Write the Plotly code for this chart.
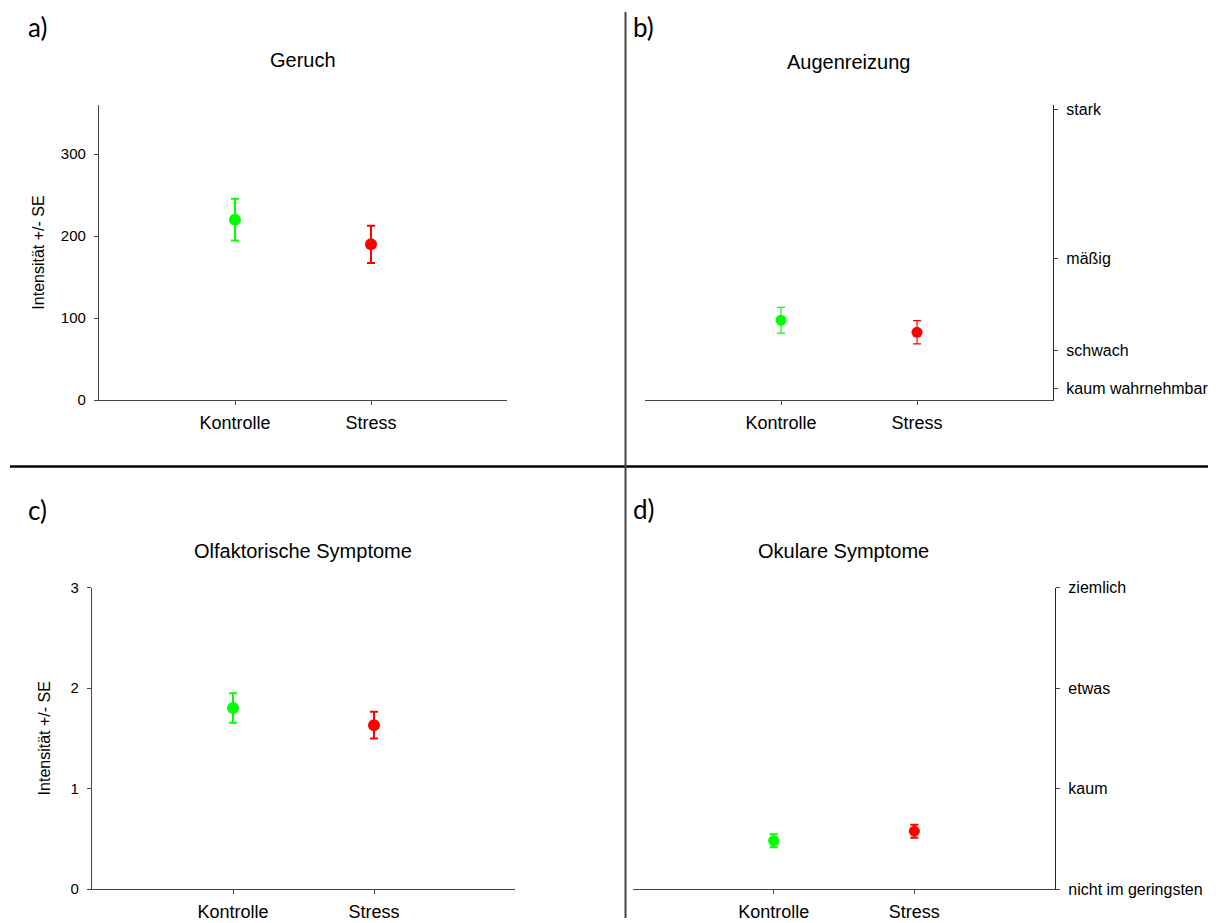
import plotly.graph_objects as go

# Page body has an 8px margin, so the figure is sized to fill the rest of the
# viewport and all reference pixel positions are shifted by OFF.
VW, VH = 1216, 923
OFF = 8
W, H = VW - OFF, VH - OFF

categories = ["Kontrolle", "Stress"]
colors = ["#00FF00", "#FF0000"]

geruch_mean = [220, 190]
geruch_se = [25.5, 22.7]

augen_mean = [9.6, 8.15]
augen_se = [1.55, 1.4]

olf_mean = [1.80, 1.63]
olf_se = [0.147, 0.133]

okul_mean = [0.48, 0.575]
okul_se = [0.065, 0.065]

augen_tickvals = [1.4, 6, 17, 35]
augen_ticktext = ["kaum wahrnehmbar", "schwach", "mäßig", "stark"]

okul_tickvals = [0, 1, 2, 3]
okul_ticktext = ["nicht im geringsten", "kaum", "etwas", "ziemlich"]

panel_titles = ["Geruch", "Augenreizung", "Olfaktorische Symptome", "Okulare Symptome"]
panel_letters = ["a)", "b)", "c)", "d)"]

FONT = "Liberation Sans, Arial, sans-serif"
AXC = "#444444"


def px_x(p):
    return (p - OFF) / W


def px_y(p):
    return 1 - (p - OFF) / H


fig = go.Figure()

panels = [
    (geruch_mean, geruch_se, "x", "y", 2.0, 12),
    (augen_mean, augen_se, "x2", "y2", 1.2, 11),
    (olf_mean, olf_se, "x3", "y3", 2.0, 12),
    (okul_mean, okul_se, "x4", "y4", 2.0, 11),
]

for means, ses, xa, ya, th, ms in panels:
    for i, cat in enumerate(categories):
        fig.add_trace(go.Scatter(
            x=[cat], y=[means[i]], xaxis=xa, yaxis=ya,
            mode="markers",
            marker=dict(color=colors[i], size=ms),
            error_y=dict(type="data", array=[ses[i]], color=colors[i],
                         thickness=th, width=4),
            showlegend=False, cliponaxis=False,
        ))

common_x = dict(type="category", categoryorder="array", categoryarray=categories,
                range=[-1, 2], showline=True, linecolor=AXC, linewidth=1.3,
                ticks="outside", ticklen=4, tickcolor=AXC, showgrid=False,
                zeroline=False, automargin=False, ticklabelstandoff=2,
                tickfont=dict(family=FONT, size=18, color="black"),
                fixedrange=True)

common_y = dict(showline=True, linewidth=1.3, ticks="outside", ticklen=4,
                tickcolor=AXC, showgrid=False, zeroline=False, automargin=False,
                fixedrange=True)

fig.update_layout(
    template="none",
    width=W, height=H,
    margin=dict(l=0, r=0, t=0, b=0, autoexpand=False),
    paper_bgcolor="white", plot_bgcolor="white",
    font=dict(family=FONT, color="black"),
    showlegend=False,
    xaxis=dict(common_x, domain=[px_x(99), px_x(507)], anchor="y"),
    yaxis=dict(common_y, domain=[px_y(400), px_y(105)], anchor="x", range=[0, 360],
               tickvals=[0, 100, 200, 300], linecolor=AXC, ticklabelstandoff=5,
               tickfont=dict(size=15),
               title=dict(text="Intensität +/- SE", font=dict(size=16), standoff=12)),
    xaxis2=dict(common_x, domain=[px_x(645), px_x(1053)], anchor="y2"),
    yaxis2=dict(common_y, domain=[px_y(400), px_y(105)], anchor="x2", side="right",
                range=[0, 35.5], tickvals=augen_tickvals, ticktext=augen_ticktext,
                linecolor="#222222", ticklabelstandoff=5, tickfont=dict(size=16)),
    xaxis3=dict(common_x, domain=[px_x(92), px_x(515)], anchor="y3"),
    yaxis3=dict(common_y, domain=[px_y(889), px_y(587.5)], anchor="x3", range=[0, 3],
                tickvals=[0, 1, 2, 3], linecolor=AXC, ticklabelstandoff=5,
                tickfont=dict(size=15),
                title=dict(text="Intensität +/- SE", font=dict(size=16), standoff=15)),
    xaxis4=dict(common_x, domain=[px_x(633), px_x(1055)], anchor="y4"),
    yaxis4=dict(common_y, domain=[px_y(889), px_y(587.5)], anchor="x4", side="right",
                range=[0, 3], tickvals=okul_tickvals, ticktext=okul_ticktext,
                linecolor="#222222", ticklabelstandoff=5, tickfont=dict(size=16)),
)

# Divider lines
fig.add_shape(type="line", xref="paper", yref="paper",
              x0=px_x(10), x1=1, y0=px_y(466.5), y1=px_y(466.5),
              line=dict(color="black", width=2.5))
fig.add_shape(type="line", xref="paper", yref="paper",
              x0=px_x(625.5), x1=px_x(625.5), y0=px_y(12), y1=px_y(918),
              line=dict(color="#444444", width=2))

# Titles
title_pos = [(303, 60), (848, 62), (303, 551), (843, 551)]
for t, (x, y) in zip(panel_titles, title_pos):
    fig.add_annotation(text=t, x=px_x(x), y=px_y(y), xref="paper", yref="paper",
                       showarrow=False, xanchor="center", yanchor="middle",
                       font=dict(family=FONT, size=20, color="black"))

# Panel letters
letter_pos = [(26, 27), (631, 27), (26, 510), (631, 509)]
for t, (x, y) in zip(panel_letters, letter_pos):
    fig.add_annotation(text=t, x=px_x(x), y=px_y(y), xref="paper", yref="paper",
                       showarrow=False, xanchor="left", yanchor="middle",
                       font=dict(family="Lato, Open Sans, sans-serif", size=26, color="black"))

fig.write_html("out.html")
